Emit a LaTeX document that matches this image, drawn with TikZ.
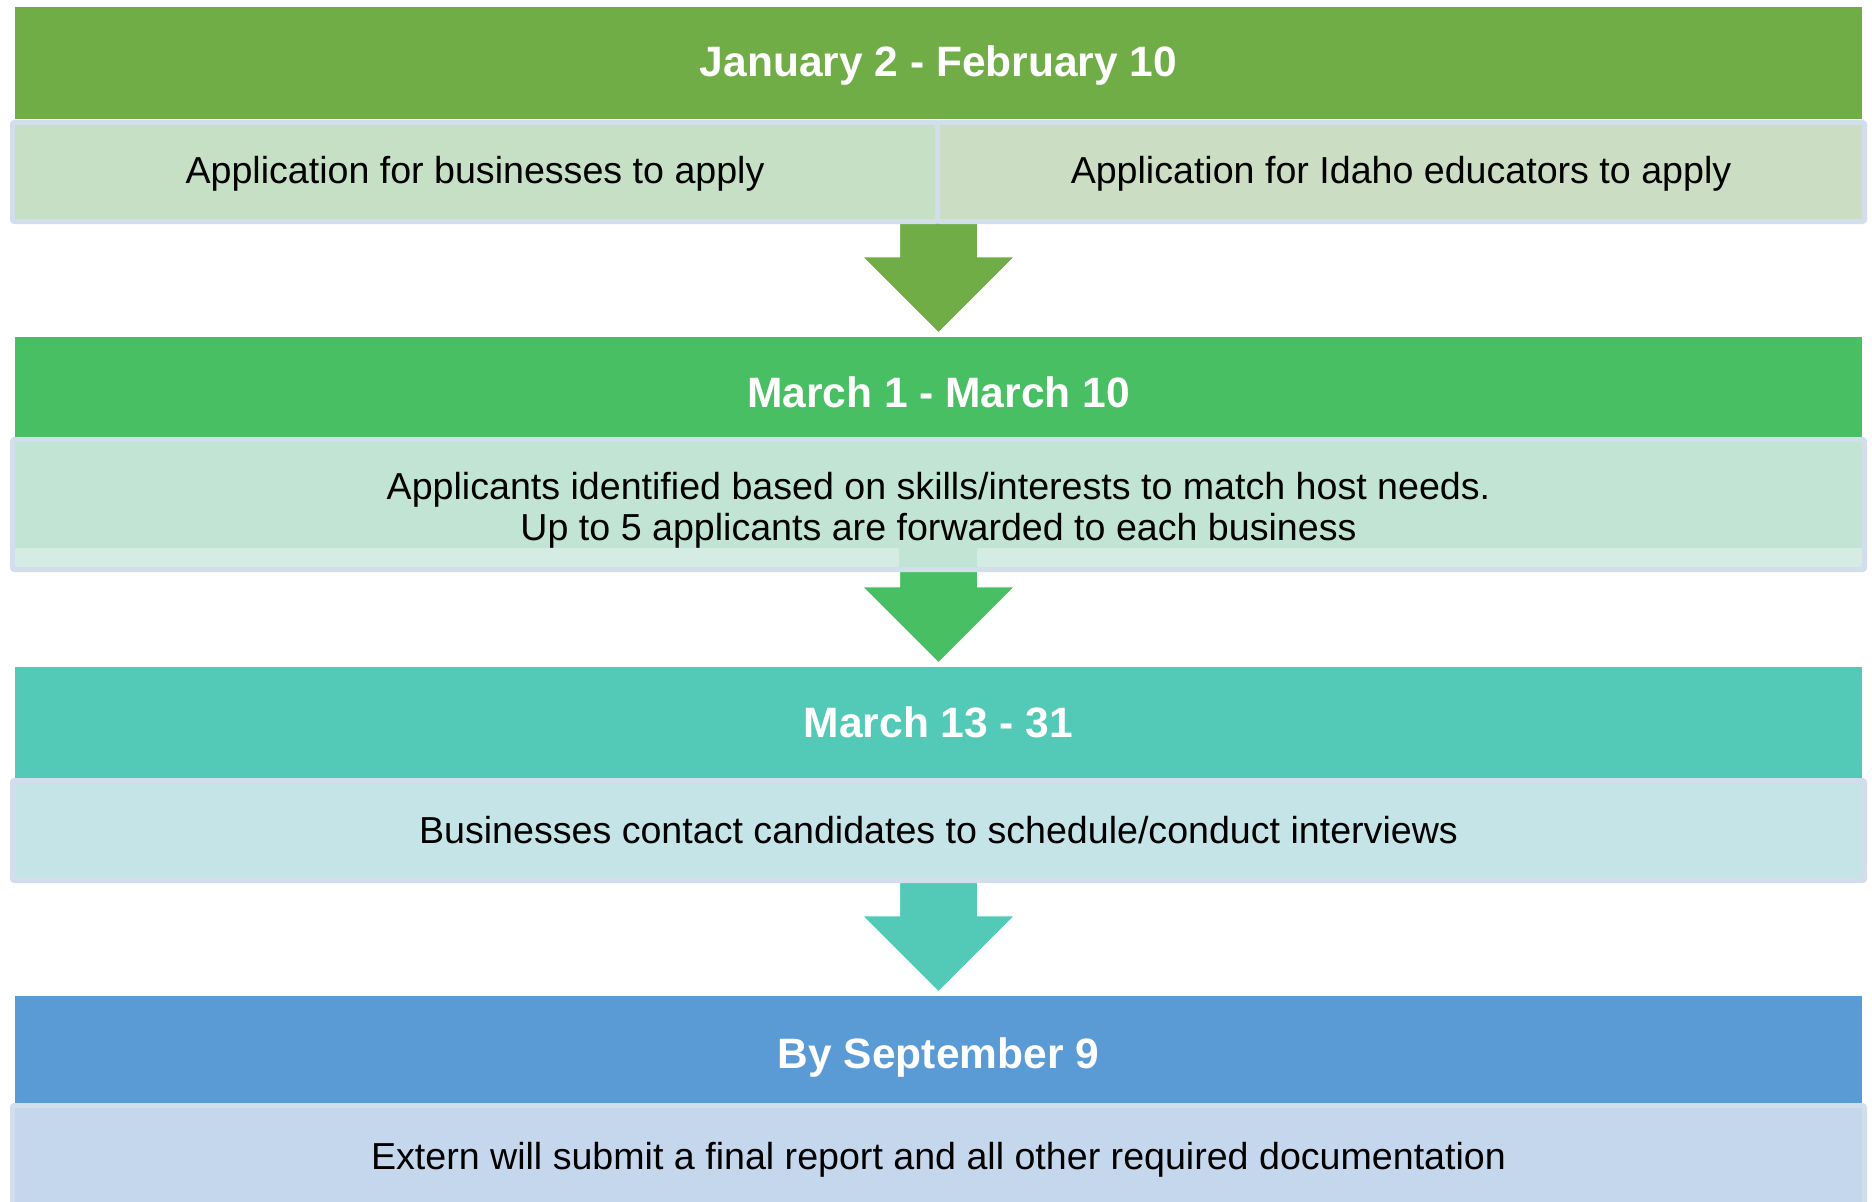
\documentclass[tikz,border=0pt]{standalone}
\usepackage{fontspec}
\setmainfont{Liberation Sans}
\usetikzlibrary{calc}

\definecolor{hdrA}{HTML}{70AD47}
\definecolor{hdrB}{HTML}{49BF63}
\definecolor{hdrC}{HTML}{53CAB7}
\definecolor{hdrD}{HTML}{5B9BD5}
\definecolor{subAl}{HTML}{C6E0C6}
\definecolor{subAr}{HTML}{CBDDC2}
\definecolor{subB}{HTML}{C1E4D4}
\definecolor{bandB}{HTML}{D4ECE3}
\definecolor{subC}{HTML}{C4E4E7}
\definecolor{subD}{HTML}{C5D7EC}
\definecolor{edge}{HTML}{D2DEEC}

\pgfdeclarelayer{back}
\pgfdeclarelayer{mid}
\pgfsetlayers{back,mid,main}

% block arrow from the bottom of a detail box down to the next period bar
\newcommand\flowarrow[3]{%
  \fill[#3, draw=white, line width=1pt, line join=round]
    ($(#2.north |- #1.south)+(-39,-3)$) -- ($(#2.north)+(-39,-80)$)
    -- ($(#2.north)+(-76,-80)$) -- ($(#2.north)+(0,-4)$)
    -- ($(#2.north)+(76,-80)$) -- ($(#2.north)+(39,-80)$)
    -- ($(#2.north |- #1.south)+(39,-3)$) -- cycle;}

\begin{document}
\begin{tikzpicture}[x=1pt, y=-1pt,
  period/.style={inner sep=0pt, minimum width=1847pt, text=white,
    font=\fontsize{42.5}{50}\selectfont\bfseries, text depth=4pt},
  detail/.style={draw=edge, line width=5pt, rounded corners=2pt, inner sep=0pt,
    font=\fontsize{37.6}{41}\selectfont, align=center, text depth=0pt}]
\useasboundingbox (0,0) rectangle (1872,1202);

% page background and period bars
\begin{pgfonlayer}{back}
\fill[white] (0,0) rectangle (1872,1202);
\node[period, fill=hdrA, minimum height=112pt, text height=30pt] (h1) at (938.5,63) {January 2 - February 10};
\node[period, fill=hdrB, minimum height=100pt, text height=44pt] (h2) at (938.5,387) {March 1 - March 10};
\node[period, fill=hdrC, minimum height=111pt, text height=34pt] (h3) at (938.5,722.5) {March 13 - 31};
\node[period, fill=hdrD, minimum height=107pt, text height=42pt] (h4) at (938.5,1049.5) {By September 9};
\end{pgfonlayer}

% detail boxes
\node[detail, text height=23pt, fill=subAl, minimum width=925pt, minimum height=99pt] (s1l) at (475,172)
  {Application for businesses to apply};
\node[detail, text height=23pt, fill=subAr, minimum width=927pt, minimum height=99pt] (s1r) at (1401,172)
  {Application for Idaho educators to apply};

\node[detail, text depth=, fill=subB, minimum width=1852pt, minimum height=130pt] (s2) at (938.5,504.5)
  {\rule{0pt}{38pt}Applicants identified based on skills/interests to match host needs.\\
   Up to 5 applicants are forwarded to each business};
\fill[bandB, rounded corners=2pt] (15,548) rectangle (899,567);
\fill[bandB, rounded corners=2pt] (977,548) rectangle (1862,567);

\node[detail, text height=25pt, fill=subC, minimum width=1852pt, minimum height=100pt] (s3) at (938.5,830.5)
  {Businesses contact candidates to schedule/conduct interviews};
\node[detail, text height=28pt, fill=subD, minimum width=1852pt, minimum height=99pt] (s4) at (938.5,1155)
  {Extern will submit a final report and all other required documentation};

% arrows between the stages
\begin{pgfonlayer}{mid}
\flowarrow{s1l}{h2}{hdrA}
\flowarrow{s2}{h3}{hdrB}
\flowarrow{s3}{h4}{hdrC}
\end{pgfonlayer}
\end{tikzpicture}
\end{document}
